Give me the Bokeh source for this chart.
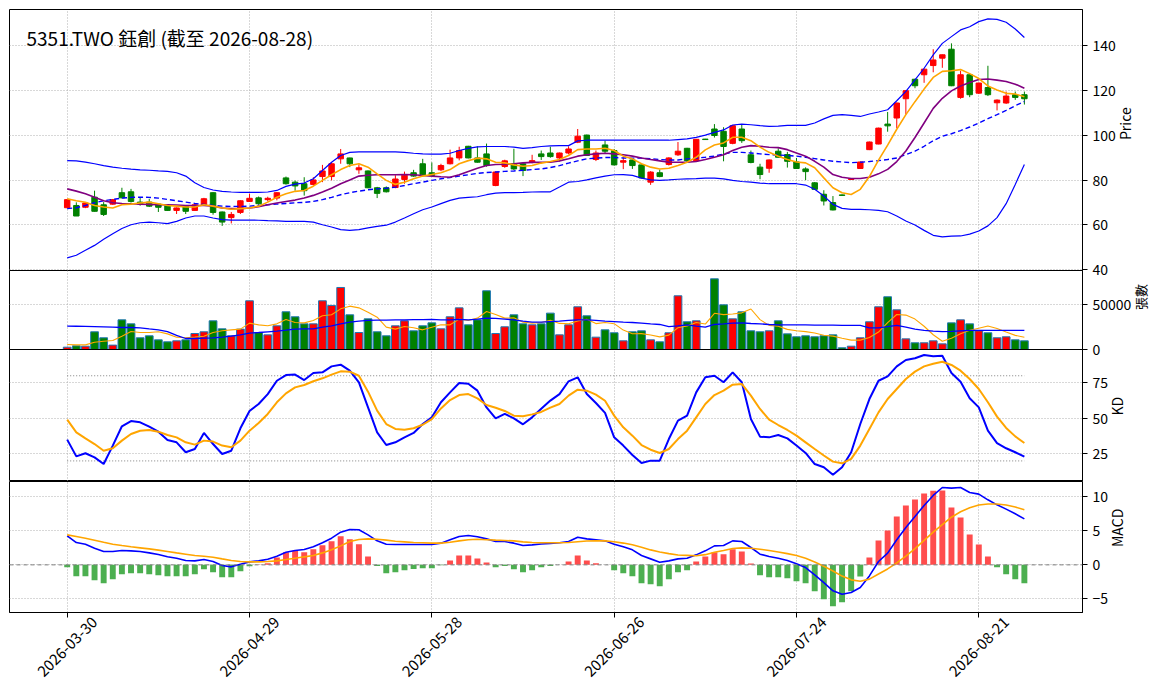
import math
from bokeh.plotting import figure
from bokeh.layouts import column
from bokeh.models import Range1d, FixedTicker, Label, Span, LinearAxis
from bokeh.embed import file_html
from bokeh.resources import INLINE

FONT = "Noto Sans CJK TC"

title_text = "5351.TWO 鈺創 (截至 2026-08-28)"

dates = ["2026-03-30", "2026-03-31",
         "2026-04-01", "2026-04-02", "2026-04-07", "2026-04-08", "2026-04-09", "2026-04-10",
         "2026-04-13", "2026-04-14", "2026-04-15", "2026-04-16", "2026-04-17", "2026-04-20",
         "2026-04-21", "2026-04-22", "2026-04-23", "2026-04-24", "2026-04-27", "2026-04-28",
         "2026-04-29", "2026-04-30",
         "2026-05-04", "2026-05-05", "2026-05-06", "2026-05-07", "2026-05-08", "2026-05-11",
         "2026-05-12", "2026-05-13", "2026-05-14", "2026-05-15", "2026-05-18", "2026-05-19",
         "2026-05-20", "2026-05-21", "2026-05-22", "2026-05-25", "2026-05-26", "2026-05-27",
         "2026-05-28", "2026-05-29",
         "2026-06-01", "2026-06-02", "2026-06-03", "2026-06-04", "2026-06-05", "2026-06-08",
         "2026-06-09", "2026-06-10", "2026-06-11", "2026-06-12", "2026-06-15", "2026-06-16",
         "2026-06-17", "2026-06-18", "2026-06-22", "2026-06-23", "2026-06-24", "2026-06-25",
         "2026-06-26", "2026-06-29", "2026-06-30",
         "2026-07-01", "2026-07-02", "2026-07-03", "2026-07-06", "2026-07-07", "2026-07-08",
         "2026-07-09", "2026-07-10", "2026-07-13", "2026-07-14", "2026-07-15", "2026-07-16",
         "2026-07-17", "2026-07-20", "2026-07-21", "2026-07-22", "2026-07-23", "2026-07-24",
         "2026-07-27", "2026-07-28", "2026-07-29", "2026-07-30", "2026-07-31",
         "2026-08-03", "2026-08-04", "2026-08-05", "2026-08-06", "2026-08-07", "2026-08-10",
         "2026-08-11", "2026-08-12", "2026-08-13", "2026-08-14", "2026-08-17", "2026-08-18",
         "2026-08-19", "2026-08-20", "2026-08-21", "2026-08-24", "2026-08-25", "2026-08-26",
         "2026-08-27", "2026-08-28"]

opens = [67.7, 68.7, 67.9, 72.4, 69.0, 69.3, 74.4, 74.8, 70.2, 70.2,
         69.3, 68.7, 66.5, 68.3, 66.5, 69.0, 74.4, 65.8, 63.3, 65.6,
         70.5, 72.1, 71.3, 72.0, 81.0, 79.1, 78.4, 78.1, 81.6, 81.6,
         89.5, 89.9, 84.6, 84.1, 76.6, 76.6, 76.7, 80.3, 83.3, 87.3,
         83.3, 84.6, 87.3, 89.9, 95.1, 89.9, 91.7, 77.6, 86.1, 87.3,
         87.3, 88.0, 91.7, 92.1, 89.9, 92.1, 96.9, 100.1, 89.2, 95.7,
         93.2, 88.0, 89.0, 86.8, 79.1, 83.3, 87.0, 91.3, 94.2, 88.7,
         98.3, 102.8, 101.8, 96.4, 102.8, 91.3, 85.8, 85.3, 92.9, 91.4,
         88.1, 85.0, 78.8, 73.7, 70.0, 73.4, 80.3, 85.2, 93.6, 96.1,
         105.0, 107.7, 116.3, 125.0, 127.0, 131.1, 134.4, 138.4, 116.9, 127.0,
         118.8, 121.3, 114.5, 114.4, 118.1, 118.1]
highs = [71.5, 70.1, 70.2, 75.3, 70.2, 71.6, 76.6, 76.1, 72.1, 71.7,
         69.8, 69.0, 67.8, 68.5, 69.3, 72.1, 74.6, 66.0, 65.8, 71.0,
         74.0, 72.7, 72.6, 74.6, 81.6, 79.8, 81.3, 81.3, 86.8, 88.0,
         93.9, 90.0, 87.0, 84.3, 77.0, 77.2, 82.2, 83.8, 84.6, 89.5,
         87.9, 87.3, 93.6, 94.9, 95.3, 95.1, 96.3, 84.0, 89.1, 94.0,
         87.5, 91.3, 93.2, 94.9, 92.3, 95.1, 102.8, 100.3, 93.2, 97.6,
         93.9, 90.2, 89.5, 87.0, 84.0, 84.7, 90.2, 97.0, 94.4, 98.4,
         98.4, 105.0, 103.6, 104.5, 105.0, 93.2, 87.3, 89.2, 94.2, 92.6,
         89.9, 85.7, 79.1, 75.5, 72.9, 73.6, 80.7, 88.3, 97.2, 103.4,
         110.4, 114.6, 120.2, 125.2, 129.7, 138.4, 136.0, 141.0, 128.8, 127.2,
         123.5, 131.0, 116.0, 119.5, 119.5, 119.5]
lows = [67.5, 64.0, 67.5, 66.0, 64.0, 69.0, 71.9, 70.0, 68.6, 68.0,
        65.8, 66.3, 64.9, 64.9, 66.3, 68.7, 64.6, 59.6, 60.7, 64.9,
        70.3, 69.0, 70.5, 71.0, 78.0, 75.3, 73.1, 77.6, 79.1, 79.9,
        87.3, 85.8, 82.8, 76.4, 72.0, 74.5, 76.4, 78.4, 81.5, 82.0,
        81.8, 84.0, 87.0, 88.8, 89.7, 87.8, 86.0, 77.3, 85.5, 84.5,
        81.8, 87.5, 89.0, 90.0, 88.3, 91.5, 96.5, 90.8, 88.5, 92.0,
        86.5, 84.9, 85.0, 80.8, 77.9, 81.3, 86.5, 90.8, 88.0, 88.5,
        98.0, 99.0, 88.4, 96.0, 96.6, 87.5, 80.4, 83.3, 90.0, 85.6,
        85.0, 80.0, 75.6, 68.7, 66.5, 73.0, 80.1, 85.0, 93.4, 96.0,
        101.6, 103.2, 109.3, 121.0, 123.4, 128.1, 130.1, 121.9, 116.3, 117.0,
        118.4, 117.5, 111.1, 114.0, 115.8, 113.7]
closes = [71.3, 64.0, 69.8, 66.1, 64.7, 71.3, 72.1, 70.5, 69.3, 68.4,
          67.9, 66.5, 67.6, 66.1, 69.0, 71.7, 65.6, 61.3, 64.7, 70.8,
          71.9, 69.5, 71.9, 74.4, 78.4, 77.4, 75.3, 80.1, 84.1, 87.3,
          91.7, 87.3, 85.5, 76.6, 74.1, 74.8, 80.5, 82.2, 81.8, 82.4,
          82.1, 86.5, 89.9, 93.2, 89.9, 88.0, 86.5, 83.6, 88.6, 85.0,
          84.3, 88.7, 90.5, 90.5, 92.1, 93.9, 99.6, 91.0, 92.1, 92.9,
          86.8, 88.7, 86.5, 81.0, 83.6, 81.6, 89.9, 92.9, 88.7, 98.2,
          98.1, 99.9, 95.0, 104.3, 97.6, 87.9, 82.5, 89.0, 90.2, 88.4,
          85.2, 83.8, 75.9, 70.7, 66.7, 73.2, 80.6, 88.1, 97.0, 103.2,
          104.2, 114.4, 119.9, 122.1, 129.5, 133.6, 135.9, 122.1, 127.0, 118.1,
          123.3, 118.1, 115.7, 117.5, 116.9, 116.3]

ma5 = [71.7, 70.8, 70.1, 68.7, 68.0, 67.6, 69.0, 69.3, 69.8, 70.2,
       69.5, 68.7, 68.4, 68.0, 68.0, 69.0, 68.4, 67.6, 67.0, 67.3,
       67.6, 68.4, 70.2, 72.4, 73.9, 75.0, 75.4, 77.3, 79.9, 82.4,
       84.7, 86.5, 87.3, 85.8, 82.8, 79.9, 78.1, 79.1, 80.6, 81.8,
       82.5, 83.3, 84.7, 87.3, 88.7, 89.8, 89.5, 88.0, 87.7, 86.8,
       86.2, 86.5, 87.6, 88.3, 89.2, 91.0, 93.6, 93.9, 93.9, 94.2,
       93.2, 90.7, 89.5, 87.3, 85.8, 85.0, 85.3, 86.5, 88.0, 90.2,
       93.5, 95.7, 96.6, 99.1, 99.1, 97.6, 94.7, 92.4, 90.7, 89.2,
       88.1, 87.7, 85.5, 81.0, 76.6, 74.4, 73.6, 75.9, 81.6, 88.9,
       95.6, 102.7, 109.2, 115.0, 120.6, 125.8, 128.5, 128.8, 129.3, 127.5,
       125.3, 122.0, 120.2, 118.7, 118.4, 117.2]
ma10 = [76.1, 75.1, 73.9, 72.4, 70.8, 69.9, 69.6, 69.5, 69.3, 69.2,
        69.0, 69.0, 68.9, 68.7, 68.7, 68.7, 68.4, 67.6, 67.3, 67.3,
        67.6, 68.1, 69.0, 69.8, 70.5, 71.1, 72.0, 73.2, 74.7, 76.4,
        78.4, 80.1, 81.8, 82.2, 82.4, 82.4, 82.4, 82.5, 82.4, 82.1,
        81.8, 81.5, 81.3, 82.4, 83.9, 85.3, 86.5, 87.0, 87.1, 87.3,
        87.7, 87.9, 88.0, 88.0, 88.6, 89.5, 90.7, 91.3, 91.7, 92.0,
        91.7, 91.3, 90.7, 89.9, 89.2, 88.6, 88.0, 88.0, 88.0, 88.3,
        89.2, 90.2, 91.3, 93.2, 94.7, 95.4, 95.1, 94.7, 94.5, 93.6,
        92.1, 90.7, 88.4, 85.8, 82.5, 81.3, 80.7, 80.7, 81.3, 82.8,
        84.8, 88.3, 93.0, 99.0, 105.5, 112.0, 116.5, 119.8, 122.0, 123.5,
        124.9, 125.1, 124.6, 124.0, 122.8, 121.0]
ma20 = [67.3, 67.7, 68.7, 69.9, 70.8, 71.4, 72.0, 72.3, 72.4, 72.3,
        72.0, 71.4, 70.8, 70.2, 69.6, 69.2, 68.7, 68.4, 68.3, 68.3,
        68.4, 68.7, 69.0, 69.3, 69.6, 69.9, 70.1, 70.5, 71.3, 72.3,
        73.5, 74.4, 75.1, 75.7, 76.1, 76.4, 76.9, 77.6, 78.4, 79.1,
        79.9, 80.6, 81.2, 81.8, 82.4, 83.0, 83.4, 83.6, 83.9, 84.1,
        84.4, 84.7, 85.0, 85.6, 86.5, 87.6, 88.6, 89.5, 89.8, 90.1,
        90.1, 89.9, 89.8, 89.8, 89.5, 89.2, 89.0, 89.0, 89.5, 89.8,
        90.2, 90.7, 91.7, 92.4, 92.4, 92.1, 91.7, 91.4, 91.2, 91.0,
        90.7, 90.2, 89.6, 89.0, 88.4, 88.1, 87.8, 88.0, 88.3, 88.7,
        89.2, 89.9, 91.4, 92.9, 95.1, 97.6, 99.6, 100.7, 102.1, 103.7,
        105.5, 107.4, 109.2, 111.1, 113.2, 115.1]
bb_upper = [88.7, 88.6, 88.0, 87.3, 86.5, 85.8, 85.3, 84.9, 84.6, 84.4,
            84.1, 83.9, 83.3, 81.8, 78.8, 76.7, 75.6, 75.0, 74.7, 74.5,
            74.5, 74.5, 74.7, 75.4, 77.2, 78.2, 78.7, 80.6, 84.3, 88.0,
            91.0, 92.4, 92.6, 92.6, 92.6, 92.6, 92.6, 92.4, 92.0, 91.7,
            91.6, 91.6, 92.0, 93.2, 94.2, 94.8, 95.0, 95.0, 95.0, 94.7,
            94.2, 94.5, 95.0, 95.3, 95.4, 95.4, 97.5, 97.8, 97.8, 97.8,
            97.8, 97.8, 97.8, 97.8, 97.8, 97.8, 97.8, 98.1, 98.4, 99.1,
            100.1, 101.3, 102.4, 104.6, 105.0, 104.7, 104.3, 104.0, 104.1, 104.4,
            104.4, 104.4, 105.5, 107.3, 108.9, 109.2, 108.9, 108.4, 109.5, 110.4,
            111.4, 115.4, 119.6, 124.7, 129.9, 135.9, 141.0, 144.0, 147.0, 148.4,
            150.7, 151.9, 151.7, 150.4, 147.4, 143.6]
bb_lower = [45.3, 46.5, 48.7, 50.9, 53.6, 56.1, 58.4, 60.1, 61.0, 61.3,
            61.0, 60.6, 61.6, 63.1, 64.0, 64.0, 63.1, 62.4, 62.2, 62.2,
            62.2, 62.1, 61.9, 61.8, 61.6, 61.6, 61.6, 61.3, 60.1, 59.1,
            57.9, 57.6, 57.9, 58.7, 59.4, 59.9, 61.3, 63.1, 65.0, 66.8,
            68.0, 69.5, 71.0, 72.0, 72.3, 72.6, 73.5, 74.2, 74.4, 74.4,
            74.5, 74.7, 74.8, 74.8, 76.9, 79.1, 79.4, 80.1, 81.0, 81.8,
            82.4, 82.5, 82.1, 80.9, 80.1, 79.9, 80.1, 80.4, 80.6, 80.7,
            80.9, 80.9, 80.6, 79.9, 79.4, 79.1, 78.7, 78.4, 78.4, 78.5,
            78.4, 77.8, 75.9, 72.9, 69.2, 67.4, 67.0, 67.0, 66.8, 66.5,
            65.9, 64.0, 61.8, 60.0, 57.6, 55.4, 54.7, 55.0, 55.1, 55.9,
            57.3, 59.6, 63.3, 69.5, 78.1, 87.0]

volume = [2600, 4100, 3700, 19800, 13100, 4900, 33200, 28700, 13100, 15300,
          10800, 8600, 9700, 10800, 17900, 19800, 32100, 23100, 15300, 22800,
          54500, 19000, 16400, 26500, 42200, 36600, 28700, 28700, 54500, 49300,
          69400, 38800, 19000, 34300, 19800, 15300, 26500, 32100, 20900, 26500,
          29800, 23100, 36600, 46600, 27600, 33200, 65700, 17900, 25400, 38800,
          28700, 27600, 28700, 40700, 16400, 27600, 47800, 37700, 13800, 22000,
          18700, 9700, 19800, 20900, 10800, 8600, 18700, 60100, 31000, 32100,
          0, 79100, 50000, 34300, 42200, 20900, 19800, 20900, 32100, 17500,
          14200, 15300, 14200, 15300, 16400, 1900, 3700, 13100, 31000, 47800,
          59000, 44400, 11900, 7500, 7500, 9700, 6300, 29800, 33200, 28700,
          20900, 18700, 13100, 14200, 10800, 9700]
vol_ma5 = [5600, 5200, 5200, 8200, 9300, 10000, 14900, 20100, 19000, 19000,
           19800, 17500, 13800, 13100, 13800, 14900, 19000, 20900, 22000, 22800,
           29500, 27600, 26500, 28700, 33600, 30200, 29800, 32500, 37700, 38800,
           45500, 48500, 46600, 41800, 36200, 25000, 22800, 25700, 24300, 22000,
           25000, 27600, 27600, 34000, 32500, 35100, 42500, 39200, 35100, 35400,
           30600, 29500, 30200, 32700, 29200, 28800, 32000, 33800, 29000, 30200,
           28900, 21700, 17700, 17800, 16200, 14100, 16100, 24400, 26400, 30300,
           28500, 40500, 39000, 39700, 41000, 45300, 33400, 27000, 26000, 22500,
           21000, 20000, 18500, 16000, 15000, 12500, 10500, 10500, 13500, 19500,
           30000, 39200, 38500, 34000, 26000, 16500, 9300, 12500, 17500, 21500,
           23800, 26300, 23500, 19500, 15800, 13800]
vol_ma20 = [26100, 26000, 25800, 25600, 25300, 25000, 24600, 24600, 24300, 23100,
            22000, 20100, 15700, 12300, 12300, 12700, 13100, 13800, 14900, 16400,
            18300, 19000, 19800, 20500, 21600, 22800, 23100, 23100, 25000, 26500,
            28700, 30600, 31700, 32500, 32800, 32800, 33200, 33200, 33400, 33500,
            33600, 33200, 33200, 33600, 33200, 34000, 35100, 34800, 34000, 33200,
            31700, 30600, 30600, 31300, 31700, 32500, 33200, 33200, 32500, 31700,
            31300, 30600, 30200, 29500, 28700, 28000, 25700, 26500, 27600, 26100,
            25000, 28000, 28700, 29500, 29800, 29100, 28700, 28000, 27600, 27600,
            27600, 27600, 27300, 27300, 27300, 27000, 26900, 26900, 24300, 24300,
            25700, 26900, 25000, 22800, 21300, 20500, 20100, 20300, 20900, 21300,
            21300, 21300, 21300, 21300, 21300, 21300]

k_vals = [35.0, 23.2, 25.4, 22.5, 17.8, 30.8, 44.4, 48.1, 47.2, 44.1,
          40.6, 34.7, 33.1, 26.1, 28.4, 39.7, 31.9, 24.9, 27.2, 43.0,
          55.2, 60.1, 67.1, 76.5, 80.5, 80.8, 77.0, 81.9, 82.4, 86.6,
          87.8, 83.6, 75.4, 57.7, 40.1, 31.2, 33.1, 36.6, 39.7, 46.0,
          50.7, 61.3, 68.3, 74.9, 74.4, 69.5, 57.7, 50.0, 53.1, 50.0,
          45.8, 50.7, 56.8, 62.5, 67.1, 76.1, 78.9, 67.1, 60.8, 53.8,
          36.6, 30.8, 24.2, 18.5, 20.2, 20.2, 35.4, 48.4, 51.9, 68.3,
          78.9, 80.0, 75.4, 82.4, 75.4, 49.5, 37.1, 36.6, 38.3, 35.9,
          30.8, 25.6, 17.8, 15.5, 10.3, 15.5, 26.1, 46.0, 63.6, 76.5,
          79.6, 86.6, 91.1, 92.3, 94.6, 93.7, 94.1, 81.9, 75.8, 64.1,
          57.7, 41.3, 32.6, 28.9, 26.1, 23.0]
d_vals = [49.1, 40.1, 35.9, 31.9, 27.2, 28.9, 34.3, 39.0, 41.3, 41.8,
          40.6, 38.3, 36.6, 33.1, 31.5, 34.3, 33.6, 30.8, 29.6, 34.3,
          41.3, 46.7, 53.1, 61.3, 67.6, 71.8, 73.5, 76.1, 78.2, 80.8,
          83.1, 82.9, 80.0, 68.8, 55.4, 46.0, 42.5, 42.0, 43.0, 45.5,
          49.5, 57.0, 62.9, 66.4, 67.1, 64.1, 59.4, 57.5, 55.2, 51.9,
          51.4, 52.8, 54.5, 57.5, 60.1, 66.0, 70.2, 69.5, 66.7, 62.4,
          51.9, 43.7, 37.8, 31.2, 27.9, 25.6, 28.4, 35.4, 41.3, 50.7,
          60.1, 66.4, 69.5, 73.7, 74.2, 66.0, 56.6, 49.1, 45.3, 41.8,
          37.8, 33.1, 28.4, 23.8, 19.5, 18.3, 21.4, 30.8, 42.5, 54.2,
          63.6, 70.7, 77.7, 82.9, 86.6, 88.5, 89.9, 87.6, 83.6, 77.7,
          70.7, 61.3, 51.2, 43.2, 37.3, 32.6]
kd_levels = [20, 80]

dif = [4.26, 3.28, 3.04, 2.45, 1.96, 1.96, 2.11, 2.06, 1.96, 1.76,
       1.52, 1.18, 0.98, 0.64, 0.59, 0.78, 0.49, -0.10, -0.29, 0.10,
       0.44, 0.59, 0.83, 1.27, 1.86, 2.11, 2.25, 2.65, 3.24, 3.92,
       4.80, 5.20, 5.15, 4.41, 3.53, 3.04, 2.99, 2.99, 2.99, 2.99,
       2.99, 3.19, 3.68, 4.17, 4.31, 4.12, 3.82, 3.43, 3.43, 3.19,
       2.84, 2.94, 3.06, 3.14, 3.24, 3.43, 4.07, 3.82, 3.68, 3.53,
       3.04, 2.65, 2.21, 1.37, 0.88, 0.39, 0.59, 0.88, 0.98, 1.47,
       2.06, 2.79, 2.84, 3.53, 3.43, 2.55, 1.57, 1.23, 0.98, 0.64,
       0.15, -0.39, -1.47, -2.60, -3.82, -4.31, -4.07, -3.33, -1.62, 0.49,
       1.72, 3.68, 5.49, 7.11, 8.73, 10.20, 11.37, 11.27, 11.37, 10.64,
       10.39, 9.56, 8.82, 8.19, 7.50, 6.76]
dea = [4.41, 4.17, 3.92, 3.63, 3.33, 3.04, 2.84, 2.65, 2.50, 2.35,
       2.16, 1.96, 1.76, 1.57, 1.37, 1.27, 1.13, 0.88, 0.64, 0.49,
       0.44, 0.44, 0.49, 0.59, 0.78, 0.98, 1.18, 1.37, 1.76, 2.21,
       2.79, 3.43, 3.73, 3.82, 3.77, 3.63, 3.48, 3.38, 3.28, 3.24,
       3.19, 3.19, 3.33, 3.53, 3.68, 3.77, 3.70, 3.63, 3.58, 3.53,
       3.38, 3.28, 3.24, 3.24, 3.25, 3.28, 3.39, 3.50, 3.55, 3.53,
       3.40, 3.20, 2.95, 2.60, 2.20, 1.90, 1.65, 1.45, 1.40, 1.35,
       1.50, 1.85, 2.10, 2.40, 2.50, 2.45, 2.30, 2.10, 1.90, 1.65,
       1.37, 0.98, 0.43, -0.20, -0.90, -1.65, -2.20, -2.40, -2.10, -1.35,
       -0.60, 0.30, 1.30, 2.40, 3.60, 4.80, 5.90, 7.00, 7.80, 8.40,
       8.80, 8.95, 8.95, 8.80, 8.50, 8.10]
hist = [-0.34, -1.67, -1.67, -2.25, -2.70, -2.11, -1.37, -1.23, -1.23, -1.37,
        -1.52, -1.67, -1.67, -1.67, -1.37, -0.64, -1.08, -1.81, -1.81, -0.93,
        -0.20, 0.05, 0.25, 1.10, 1.86, 2.06, 1.86, 2.30, 2.89, 3.48,
        4.22, 3.77, 3.04, 1.23, -0.15, -1.23, -1.08, -0.78, -0.59, -0.49,
        -0.49, -0.05, 0.64, 1.37, 1.37, 0.93, 0.34, -0.34, -0.15, -0.64,
        -1.08, -0.78, -0.34, -0.15, 0.02, 0.49, 1.37, 0.64, 0.25, 0.02,
        -0.78, -1.23, -1.67, -2.70, -2.84, -3.14, -2.11, -1.08, -0.78, 0.49,
        1.23, 1.86, 1.57, 2.30, 1.96, 0.20, -1.52, -1.81, -1.81, -1.96,
        -2.40, -2.70, -3.87, -5.05, -6.08, -5.49, -3.87, -1.72, 1.08, 3.58,
        5.05, 7.11, 8.73, 9.61, 10.49, 10.88, 10.93, 8.43, 6.96, 4.46,
        2.99, 1.23, -0.34, -1.37, -2.11, -2.70]

price_ticks = [40, 60, 80, 100, 120, 140]
volume_ticks = [0, 50000]
kd_ticks = [25, 50, 75]
macd_ticks = [-5, 0, 5, 10]

# ---------------------------------------------------------------
n = len(dates)
idx = list(range(n))
tick_idx = idx[::20]
RED, GREEN = "#ff0000", "#008000"
candle_colors = [RED if c > o else GREEN for o, c in zip(opens, closes)]
body_top = [max(o, c) for o, c in zip(opens, closes)]
body_bot = [min(o, c) for o, c in zip(opens, closes)]
hist_colors = ["#ff4d4d" if h >= 0 else "#4caf50" for h in hist]

PX = 9.116
x_range = Range1d(-57.7 / PX, 1015.3 / PX)
GRID = "#b0b0b0"
OVER = 12  # extra canvas below a panel so its lowest tick label is not clipped
LABEL_SHIFT = 3  # rotated date labels are centred on their tick, as in the reference


def make_fig(frame_h, y_rng, yticks, ylabel, top=0, bottom=0, show_x=False,
             label_size="14px"):
    p = figure(frame_width=1073, frame_height=frame_h, x_range=x_range,
               y_range=Range1d(*y_rng), y_axis_location="right",
               toolbar_location=None, output_backend="svg",
               min_border_left=9, min_border_top=top, min_border_bottom=bottom,
               min_border_right=5)
    p.background_fill_color = "white"
    p.border_fill_alpha = 0
    p.outline_line_color = "black"
    p.outline_line_width = 1
    p.outline_line_alpha = 1
    p.yaxis.ticker = FixedTicker(ticks=yticks)
    p.xaxis.ticker = FixedTicker(ticks=tick_idx)
    p.xgrid.ticker = FixedTicker(ticks=tick_idx)
    p.ygrid.ticker = FixedTicker(ticks=yticks)
    for g in (p.xgrid, p.ygrid):
        g.grid_line_color = GRID
        g.grid_line_dash = "1 2"
        g.grid_line_width = 1
    for ax in (p.xaxis, p.yaxis):
        ax.axis_line_color = "black"
        ax.major_tick_line_color = "black"
        ax.major_tick_out = 5
        ax.major_tick_in = 0
        ax.minor_tick_out = 0
        ax.minor_tick_in = 0
        ax.major_label_text_font = FONT
        ax.major_label_text_font_size = "14px"
        ax.major_label_text_color = "black"
    p.yaxis.axis_label = ylabel
    p.yaxis.axis_label_text_font = FONT
    p.yaxis.axis_label_text_font_size = label_size
    p.yaxis.axis_label_text_font_style = "normal"
    p.yaxis.axis_label_text_color = "black"
    p.yaxis.axis_label_standoff = 6
    p.yaxis.axis_label_orientation = math.pi / 2
    if show_x:
        # tick marks only on the main axis
        p.xaxis.major_label_overrides = {i: "" for i in tick_idx}
        p.xaxis.major_label_text_font_size = "1px"
        p.xaxis.major_label_standoff = 0
        # date labels on a second axis, centred on the ticks
        lab_ticks = [i + LABEL_SHIFT for i in tick_idx]
        lab_axis = LinearAxis(ticker=FixedTicker(ticks=lab_ticks),
                              major_label_overrides={i + LABEL_SHIFT: dates[i] for i in tick_idx},
                              major_label_orientation=math.pi / 4,
                              major_label_standoff=2,
                              major_tick_out=0, major_tick_in=0,
                              minor_tick_out=0, minor_tick_in=0,
                              axis_line_color=None,
                              major_label_text_font=FONT,
                              major_label_text_font_size="15px",
                              major_label_text_color="black")
        p.add_layout(lab_axis, "below")
    else:
        p.xaxis.visible = False
    return p


# ---- price panel
p1 = make_fig(261, (39.7, 156.1), price_ticks, "Price", top=9, bottom=OVER)
p1.segment(x0=idx, y0=lows, x1=idx, y1=highs, line_color=candle_colors, line_width=1)
p1.vbar(x=idx, width=0.6, top=body_top, bottom=body_bot,
        fill_color=candle_colors, line_color=candle_colors, line_width=1)
p1.line(idx, bb_upper, line_color="blue", line_width=1.2)
p1.line(idx, bb_lower, line_color="blue", line_width=1.2)
p1.line(idx, ma20, line_color="blue", line_width=1.4, line_dash="5 3")
p1.line(idx, ma10, line_color="purple", line_width=1.6)
p1.line(idx, ma5, line_color="orange", line_width=1.6)
p1.add_layout(Label(x=-57.7 / PX + 17 / PX, y=143.6, text=title_text,
                    text_font=FONT, text_font_size="19px", text_color="black",
                    text_align="left", text_baseline="alphabetic"))

# ---- volume panel
p2 = make_fig(79, (0, 88400), volume_ticks, "張數", bottom=OVER, label_size="13px")
p2.margin = (-OVER, 0, 0, 0)
p2.vbar(x=idx, width=0.85, top=volume, bottom=0, fill_color=candle_colors,
        line_color="#1f77b4", line_width=1)
p2.line(idx, vol_ma5, line_color="orange", line_width=1.1)
p2.line(idx, vol_ma20, line_color="blue", line_width=1.3)

# ---- KD panel
p3 = make_fig(132, (5.5, 98.5), kd_ticks, "KD")
p3.margin = (-OVER, 0, 0, 0)
for lv in kd_levels:
    p3.line([idx[0], idx[-1]], [lv, lv], line_color="#808080", line_width=1, line_dash="1 2")
p3.line(idx, k_vals, line_color="blue", line_width=2)
p3.line(idx, d_vals, line_color="orange", line_width=2)

# ---- MACD panel
p4 = make_fig(131, (-7.0, 12.25), macd_ticks, "MACD", show_x=True)
p4.vbar(x=idx, width=0.65, top=hist, bottom=0, fill_color=hist_colors,
        line_color=None)
p4.add_layout(Span(location=0, dimension="width", line_color="#808080",
                   line_width=1, line_dash="4 3"))
p4.line(idx, dif, line_color="blue", line_width=1.6)
p4.line(idx, dea, line_color="orange", line_width=1.6)

layout = column(p1, p2, p3, p4, spacing=0)
open("out.html", "w").write(file_html(layout, INLINE))
